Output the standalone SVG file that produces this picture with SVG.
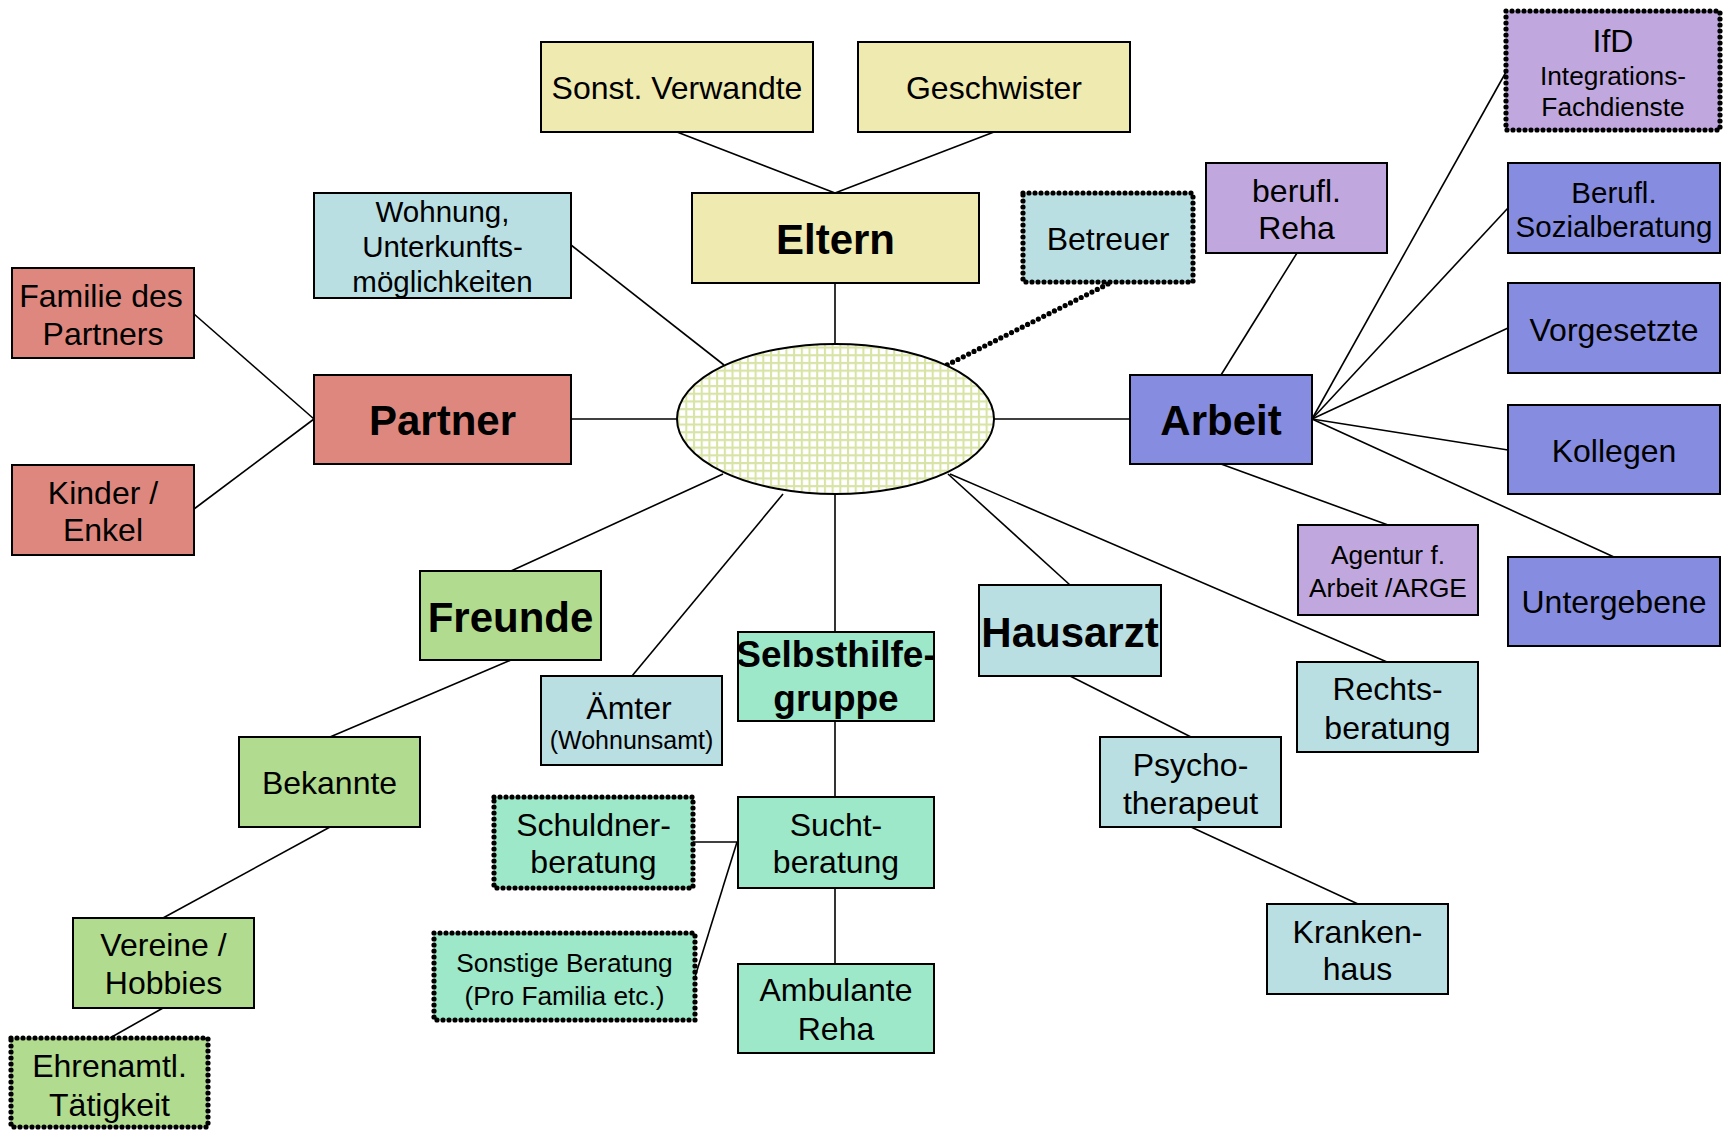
<svg xmlns="http://www.w3.org/2000/svg" width="1729" height="1130" viewBox="0 0 1729 1130">
<defs>
<pattern id="grid" x="0" y="0" width="7.7" height="7.7" patternUnits="userSpaceOnUse">
<rect width="7.7" height="7.7" fill="#ffffff"/>
<path d="M0 1 H7.7 M1 0 V7.7" stroke="#D8E3A6" stroke-width="2.1" fill="none"/>
</pattern>
</defs>
<style>
text{font-family:"Liberation Sans",Arial,sans-serif;fill:#000;text-anchor:middle}
.n{font-size:32px}
.s{font-size:29.5px}
.t{font-size:26.3px}
.b{font-size:42px;font-weight:bold}
.box{stroke:#000;stroke-width:2}
.dot{stroke:#000;stroke-width:5.2;stroke-dasharray:0 6;stroke-linecap:round}
.y{fill:#EEEAB0}
.r{fill:#DE877E}
.c{fill:#B9DFE3}
.p{fill:#C0A8DE}
.bl{fill:#868DE0}
.g{fill:#B1DC8F}
.m{fill:#9DE8C9}
.ln{stroke:#000;stroke-width:1.6;fill:none}
</style>
<rect width="1729" height="1130" fill="#ffffff"/>
<g id="connectors">
<line class="ln" x1="677" y1="132" x2="835" y2="193"/>
<line class="ln" x1="994" y1="132" x2="835" y2="193"/>
<line class="ln" x1="835" y1="283" x2="835" y2="344"/>
<line class="ln" x1="571" y1="245" x2="724" y2="365"/>
<line class="ln" x1="571" y1="419" x2="677" y2="419"/>
<line class="ln" x1="194" y1="314" x2="314" y2="419"/>
<line class="ln" x1="194" y1="509" x2="314" y2="419"/>
<line class="dot" x1="1108" y1="284" x2="947" y2="365" fill="none"/>
<line class="ln" x1="994" y1="419" x2="1130" y2="419"/>
<line class="ln" x1="1297" y1="253" x2="1221" y2="375"/>
<line class="ln" x1="1312" y1="419" x2="1506" y2="72"/>
<line class="ln" x1="1312" y1="419" x2="1508" y2="208"/>
<line class="ln" x1="1312" y1="419" x2="1508" y2="328"/>
<line class="ln" x1="1312" y1="419" x2="1508" y2="450"/>
<line class="ln" x1="1312" y1="419" x2="1614" y2="557"/>
<line class="ln" x1="1221" y1="464" x2="1388" y2="525"/>
<line class="ln" x1="723" y1="474" x2="511" y2="571"/>
<line class="ln" x1="783" y1="494" x2="632" y2="676"/>
<line class="ln" x1="835" y1="494" x2="835" y2="632"/>
<line class="ln" x1="948" y1="474" x2="1070" y2="585"/>
<line class="ln" x1="950" y1="474" x2="1387" y2="662"/>
<line class="ln" x1="511" y1="660" x2="330" y2="737"/>
<line class="ln" x1="330" y1="827" x2="163" y2="918"/>
<line class="ln" x1="163" y1="1008" x2="110" y2="1038"/>
<line class="ln" x1="835" y1="721" x2="835" y2="797"/>
<line class="ln" x1="835" y1="888" x2="835" y2="964"/>
<line class="ln" x1="693" y1="842" x2="738" y2="842"/>
<line class="ln" x1="737" y1="842" x2="695" y2="977"/>
<line class="ln" x1="1070" y1="676" x2="1191" y2="737"/>
<line class="ln" x1="1191" y1="827" x2="1358" y2="904"/>
</g>
<g id="center">
<ellipse cx="835.5" cy="419" rx="158.5" ry="75" fill="url(#grid)" stroke="#000" stroke-width="2"/>
</g>
<g id="sonst-verwandte"><rect class="box y" x="541" y="42" width="272" height="90"/><text class="n" x="677" y="99">Sonst. Verwandte</text></g>
<g id="geschwister"><rect class="box y" x="858" y="42" width="272" height="90"/><text class="n" x="994" y="99">Geschwister</text></g>
<g id="eltern"><rect class="box y" x="692" y="193" width="287" height="90"/><text class="b" x="835.5" y="254">Eltern</text></g>
<g id="wohnung"><rect class="box c" x="314" y="193" width="257" height="105"/><text class="s" x="442.5" y="222">Wohnung,</text><text class="s" x="442.5" y="257">Unterkunfts-</text><text class="s" x="442.5" y="292">möglichkeiten</text></g>
<g id="betreuer"><rect class="dot c" x="1023" y="193" width="170" height="89"/><text class="n" x="1108" y="250">Betreuer</text></g>
<g id="berufl-reha"><rect class="box p" x="1206" y="163" width="181" height="90"/><text class="n" x="1296.5" y="202">berufl.</text><text class="n" x="1296.5" y="239">Reha</text></g>
<g id="ifd"><rect class="dot p" x="1506" y="11" width="214" height="119"/><text class="n" x="1613" y="52">IfD</text><text class="t" x="1613" y="85">Integrations-</text><text class="t" x="1613" y="116">Fachdienste</text></g>
<g id="berufl-sozialberatung"><rect class="box bl" x="1508" y="163" width="212" height="90"/><text class="s" x="1614" y="203">Berufl.</text><text class="s" x="1614" y="237">Sozialberatung</text></g>
<g id="vorgesetzte"><rect class="box bl" x="1508" y="283" width="212" height="90"/><text class="n" x="1614" y="341">Vorgesetzte</text></g>
<g id="kollegen"><rect class="box bl" x="1508" y="405" width="212" height="89"/><text class="n" x="1614" y="462">Kollegen</text></g>
<g id="untergebene"><rect class="box bl" x="1508" y="557" width="212" height="89"/><text class="n" x="1614" y="613">Untergebene</text></g>
<g id="arbeit"><rect class="box bl" x="1130" y="375" width="182" height="89"/><text class="b" x="1221" y="435">Arbeit</text></g>
<g id="agentur"><rect class="box p" x="1298" y="525" width="180" height="90"/><text class="t" x="1388" y="564">Agentur f.</text><text class="t" x="1388" y="597">Arbeit /ARGE</text></g>
<g id="familie-partner"><rect class="box r" x="12" y="268" width="182" height="90"/><text class="n" x="101" y="307">Familie des</text><text class="n" x="103" y="345">Partners</text></g>
<g id="partner"><rect class="box r" x="314" y="375" width="257" height="89"/><text class="b" x="442.5" y="435">Partner</text></g>
<g id="kinder"><rect class="box r" x="12" y="465" width="182" height="90"/><text class="n" x="103" y="504">Kinder /</text><text class="n" x="103" y="541">Enkel</text></g>
<g id="freunde"><rect class="box g" x="420" y="571" width="181" height="89"/><text class="b" x="510.5" y="632">Freunde</text></g>
<g id="aemter"><rect class="box c" x="541" y="676" width="181" height="89"/><text class="n" x="629" y="719">Ämter</text><text style="font-size:25px" x="631.5" y="749">(Wohnunsamt)</text></g>
<g id="selbsthilfegruppe"><rect class="box m" x="738" y="632" width="196" height="89"/><text style="font-size:37px;font-weight:bold" x="836" y="667">Selbsthilfe-</text><text style="font-size:37px;font-weight:bold" x="836" y="711">gruppe</text></g>
<g id="hausarzt"><rect class="box c" x="979" y="585" width="182" height="91"/><text class="b" x="1070" y="647">Hausarzt</text></g>
<g id="rechtsberatung"><rect class="box c" x="1297" y="662" width="181" height="90"/><text class="n" x="1387.5" y="700">Rechts-</text><text class="n" x="1387.5" y="739">beratung</text></g>
<g id="bekannte"><rect class="box g" x="239" y="737" width="181" height="90"/><text class="n" x="329.5" y="794">Bekannte</text></g>
<g id="psychotherapeut"><rect class="box c" x="1100" y="737" width="181" height="90"/><text class="n" x="1190.5" y="776">Psycho-</text><text class="n" x="1190.5" y="814">therapeut</text></g>
<g id="schuldnerberatung"><rect class="dot m" x="494" y="797" width="199" height="91"/><text class="n" x="593.5" y="836">Schuldner-</text><text class="n" x="593.5" y="873">beratung</text></g>
<g id="suchtberatung"><rect class="box m" x="738" y="797" width="196" height="91"/><text class="n" x="836" y="836">Sucht-</text><text class="n" x="836" y="873">beratung</text></g>
<g id="sonstige-beratung"><rect class="dot m" x="434" y="933" width="261" height="87"/><text class="t" x="564.5" y="972">Sonstige Beratung</text><text class="t" x="564.5" y="1005">(Pro Familia etc.)</text></g>
<g id="vereine"><rect class="box g" x="73" y="918" width="181" height="90"/><text class="n" x="163.5" y="956">Vereine /</text><text class="n" x="163.5" y="994">Hobbies</text></g>
<g id="ambulante-reha"><rect class="box m" x="738" y="964" width="196" height="89"/><text class="n" x="836" y="1001">Ambulante</text><text class="n" x="836" y="1040">Reha</text></g>
<g id="krankenhaus"><rect class="box c" x="1267" y="904" width="181" height="90"/><text class="n" x="1357.5" y="943">Kranken-</text><text class="n" x="1357.5" y="980">haus</text></g>
<g id="ehrenamt"><rect class="dot g" x="11" y="1038" width="197" height="89"/><text class="n" x="109.5" y="1077">Ehrenamtl.</text><text class="n" x="109.5" y="1116">Tätigkeit</text></g>
</svg>
